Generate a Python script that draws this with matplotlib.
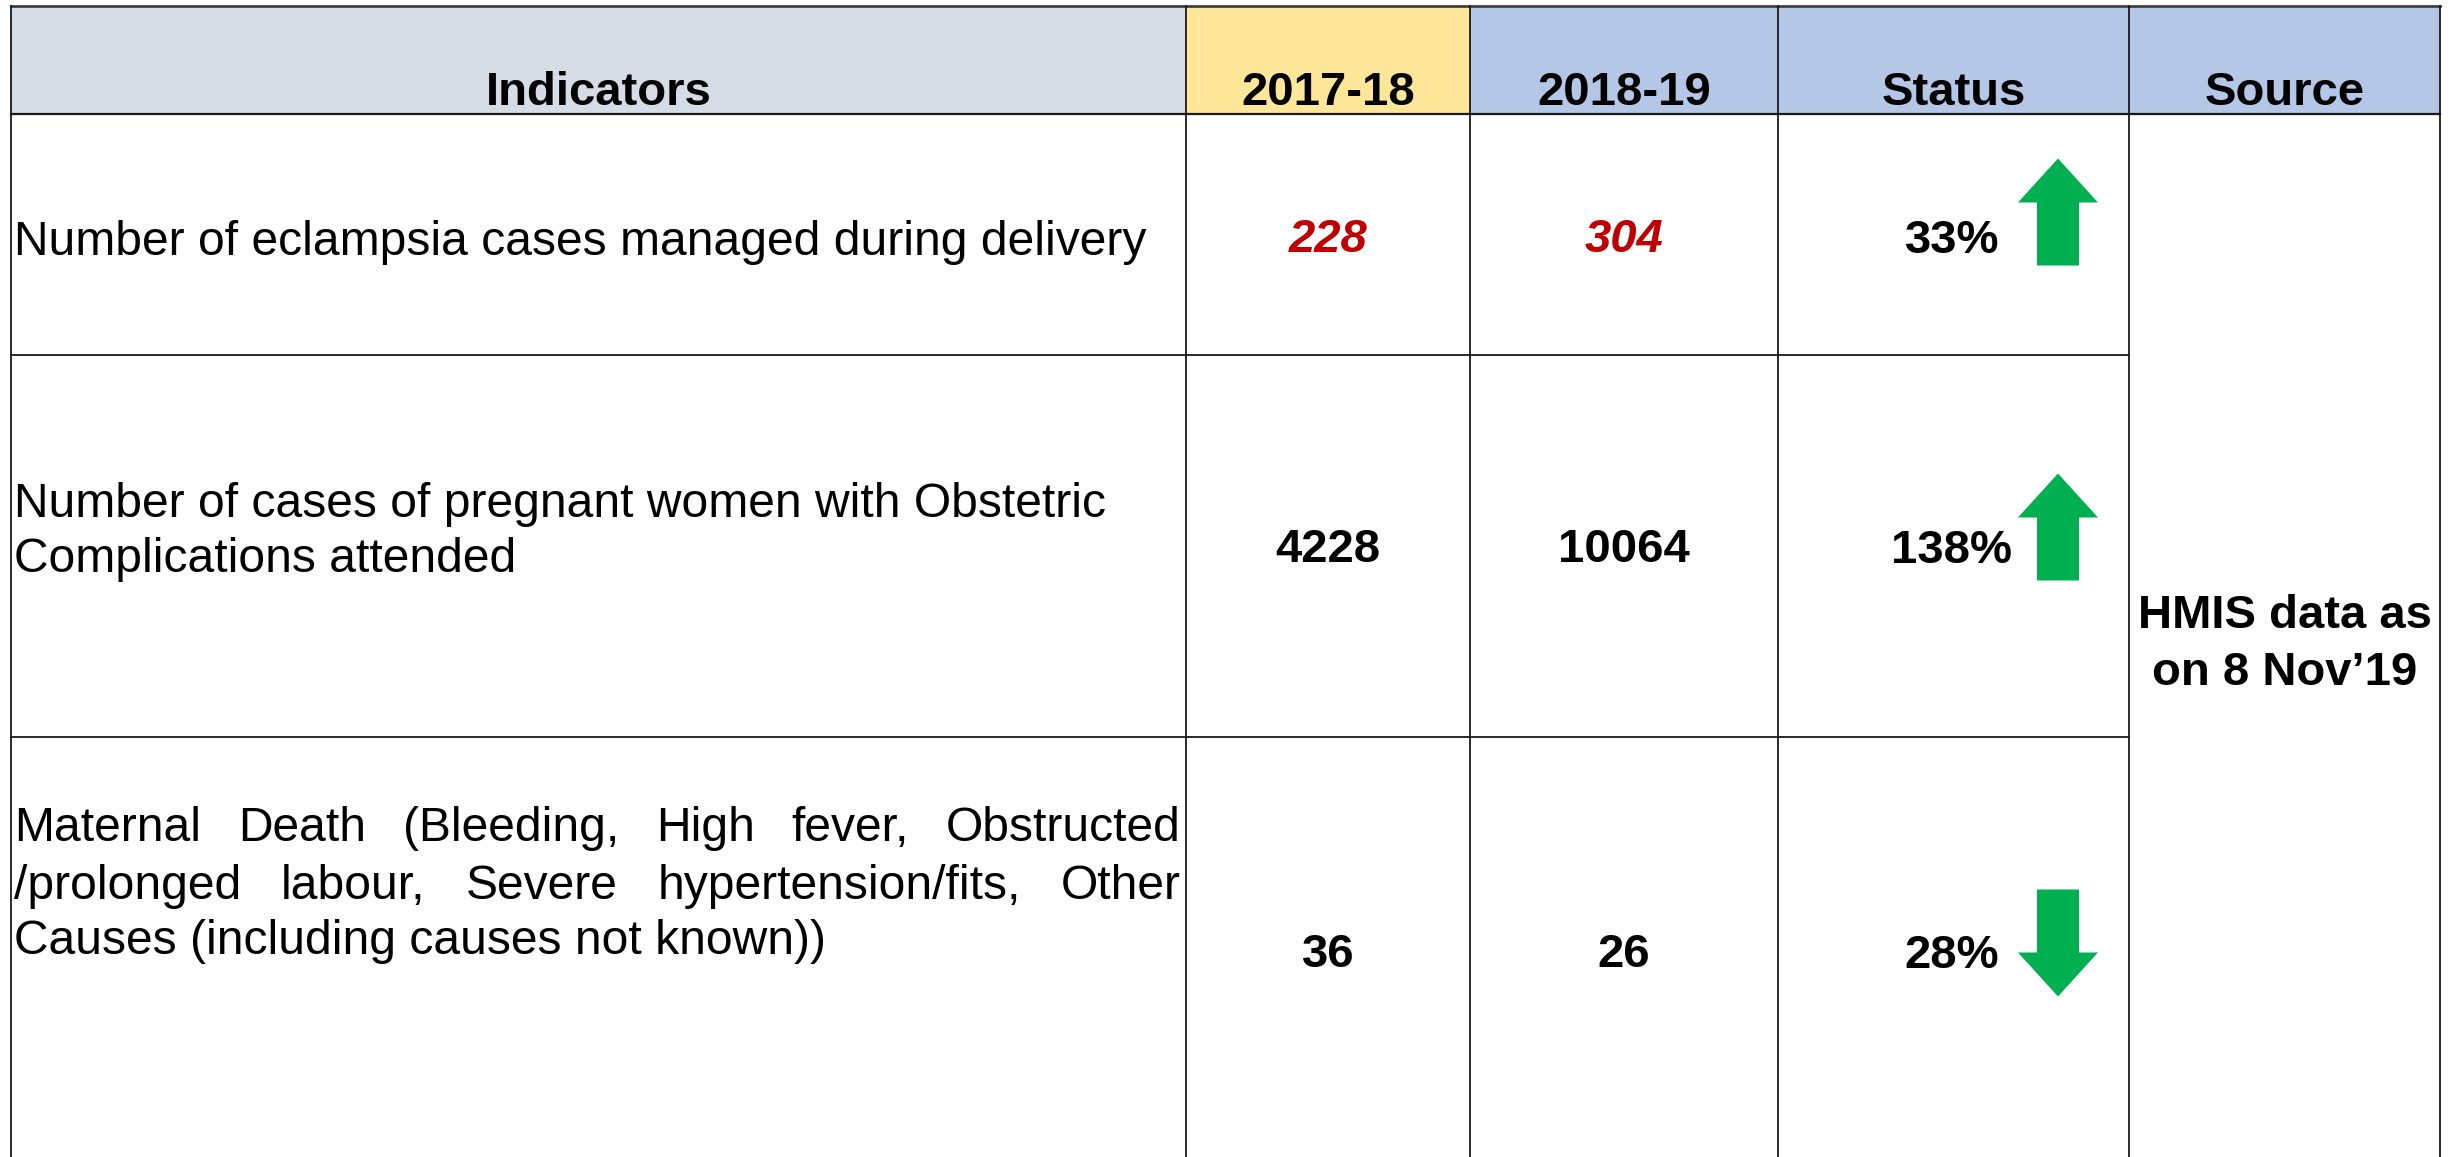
import matplotlib.pyplot as plt
from matplotlib.patches import Rectangle, Polygon

plt.rcParams['font.family'] = ['Liberation Sans', 'DejaVu Sans']

# data
headers = ["Indicators", "2017-18", "2018-19", "Status", "Source"]
header_colors = ["#D6DCE5", "#FFE699", "#B4C7E7", "#B4C7E7", "#B4C7E7"]
indicators = [
    ["Number of eclampsia cases managed during delivery"],
    ["Number of cases of pregnant women with Obstetric", "Complications attended"],
    ["Maternal Death (Bleeding, High fever, Obstructed",
     "/prolonged labour, Severe hypertension/fits, Other",
     "Causes (including causes not known))"],
]
justified = [False, False, True]
val_1718 = [228, 4228, 36]
val_1819 = [304, 10064, 26]
value_red = [True, False, False]
source = "HMIS data as\non 8 Nov\u201919"

# layout (pixels)
W, H = 2458, 1157
col_x = [11, 1186, 1470, 1778, 2129, 2440]
row_y = [5.5, 114, 355, 737, H + 5]
fs = 34
fs_body = 34.6

fig = plt.figure(figsize=(W / 100, H / 100), dpi=100)
ax = fig.add_axes([0, 0, 1, 1])
ax.set_xlim(0, W)
ax.set_ylim(H, 0)
ax.axis('off')

# header cells
for i in range(len(headers)):
    ax.add_patch(Rectangle((col_x[i], row_y[0]), col_x[i + 1] - col_x[i], row_y[1] - row_y[0],
                           facecolor=header_colors[i], edgecolor='none'))
    ax.text((col_x[i] + col_x[i + 1]) / 2, 105, headers[i], ha='center', va='baseline',
            fontsize=fs, fontweight='bold')

# grid lines
lc = '#1a1a1a'
ax.plot([col_x[0], col_x[-1]], [row_y[0], row_y[0]], color='#404040', lw=2)
ax.plot([col_x[0], col_x[-1]], [row_y[1], row_y[1]], color=lc, lw=1.6)
for y in row_y[2:4]:
    ax.plot([col_x[0], col_x[4]], [y, y], color=lc, lw=1.3)
for x in col_x:
    ax.plot([x, x], [row_y[0], H + 5], color=lc, lw=1.3)

renderer = fig.canvas.get_renderer()


def justify_line(text, x0, x1, y):
    words = text.split()
    ts = [ax.text(0, y, w, ha='left', va='baseline', fontsize=fs_body) for w in words]
    widths = [t.get_window_extent(renderer).width for t in ts]
    gap = (x1 - x0 - sum(widths)) / (len(words) - 1)
    x = x0
    for t, w in zip(ts, widths):
        t.set_x(x)
        x += w + gap


row_base = [[255], [517, 572], [841, 899, 954]]
value_base = [252, 562, 967]
arrow_mid = [212, 527, 943]

for r in range(len(indicators)):
    lines = indicators[r]
    for k, line in enumerate(lines):
        y = row_base[r][k]
        if justified[r] and k < len(lines) - 1:
            justify_line(line, 14, 1181, y)
        else:
            ax.text(14, y, line, ha='left', va='baseline', fontsize=fs_body)

    a, b = val_1718[r], val_1819[r]
    if value_red[r]:
        kw = dict(color='#C00000', fontstyle='italic')
    else:
        kw = dict(color='black')
    ax.text((col_x[1] + col_x[2]) / 2, value_base[r], str(a), ha='center', va='baseline',
            fontsize=fs, fontweight='bold', **kw)
    ax.text((col_x[2] + col_x[3]) / 2, value_base[r], str(b), ha='center', va='baseline',
            fontsize=fs, fontweight='bold', **kw)

    pct = round(abs(b - a) / a * 100)
    ax.text(1952, value_base[r] + 1, f"{pct}%", ha='center', va='baseline',
            fontsize=fs, fontweight='bold')

    # arrow
    d = -1 if b > a else 1  # -1 means pointing up (y axis inverted)
    cx, cy, hl = 2058, arrow_mid[r], 53.5
    tip = cy + d * hl
    base = cy - d * hl
    neck = tip - d * 44
    pts = [(cx, tip), (cx + 40, neck), (cx + 21, neck), (cx + 21, base),
           (cx - 21, base), (cx - 21, neck), (cx - 40, neck)]
    ax.add_patch(Polygon(pts, closed=True, facecolor='#00B050', edgecolor='none'))

ax.text((col_x[4] + col_x[5]) / 2, 628, source.split("\n")[0], ha='center', va='baseline',
        fontsize=fs, fontweight='bold')
ax.text((col_x[4] + col_x[5]) / 2, 685, source.split("\n")[1], ha='center', va='baseline',
        fontsize=fs, fontweight='bold')

fig.savefig("out.png", dpi=100, facecolor='white')
